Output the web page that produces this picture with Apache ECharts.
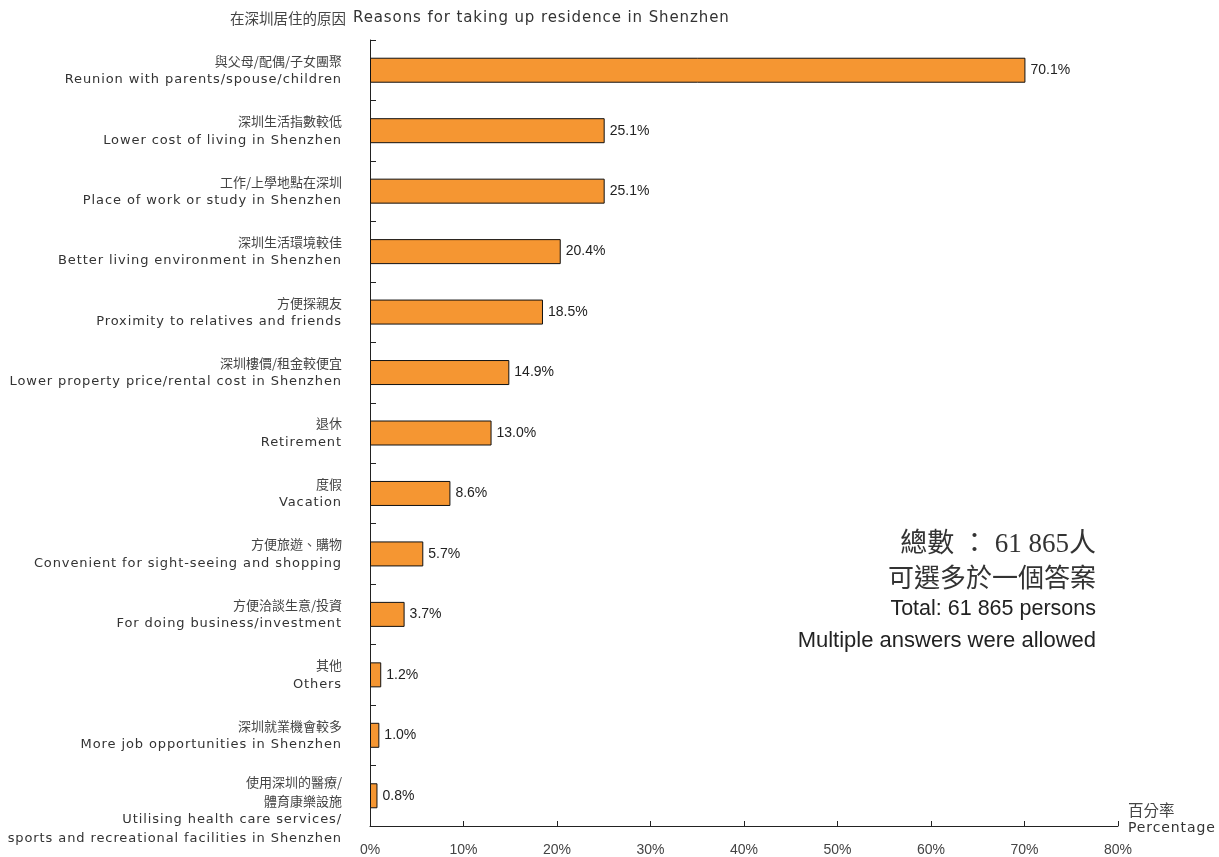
<!DOCTYPE html>
<html>
<head>
<meta charset="utf-8">
<style>
  html, body { margin: 0; padding: 0; background: #ffffff; }
  #chart { width: 1219px; height: 857px; }
</style>
<script src="https://cdn.jsdelivr.net/npm/echarts@6/dist/echarts.min.js"></script>
</head>
<body>
<div id="chart"></div>
<script>
// Reasons for taking up residence in Shenzhen (percentage of persons, multiple answers)
const categoriesZh = [
  '與父母/配偶/子女團聚',
  '深圳生活指數較低',
  '工作/上學地點在深圳',
  '深圳生活環境較佳',
  '方便探親友',
  '深圳樓價/租金較便宜',
  '退休',
  '度假',
  '方便旅遊、購物',
  '方便洽談生意/投資',
  '其他',
  '深圳就業機會較多',
  '使用深圳的醫療/\n體育康樂設施'
];
const categoriesEn = [
  'Reunion with parents/spouse/children',
  'Lower cost of living in Shenzhen',
  'Place of work or study in Shenzhen',
  'Better living environment in Shenzhen',
  'Proximity to relatives and friends',
  'Lower property price/rental cost in Shenzhen',
  'Retirement',
  'Vacation',
  'Convenient for sight-seeing and shopping',
  'For doing business/investment',
  'Others',
  'More job opportunities in Shenzhen',
  'Utilising health care services/\nsports and recreational facilities in Shenzhen'
];
const values = [70.1, 25.1, 25.1, 20.4, 18.5, 14.9, 13.0, 8.6, 5.7, 3.7, 1.2, 1.0, 0.8];
const xTicks = [0, 10, 20, 30, 40, 50, 60, 70, 80];

const titleZh = '在深圳居住的原因';
const titleEn = 'Reasons for taking up residence in Shenzhen';
const axisNameZh = '百分率';
const axisNameEn = 'Percentage';
const noteLines = ['總數 ： 61 865人', '可選多於一個答案', 'Total: 61 865 persons', 'Multiple answers were allowed'];

const CJK = '"Noto Sans CJK TC", "Noto Sans CJK SC", sans-serif';
const WIDE = '"DejaVu Sans", "Liberation Sans", sans-serif';
const ARIAL = '"Liberation Sans", Arial, sans-serif';
const SERIF = '"Liberation Serif", "Noto Sans CJK TC", serif';

// The Latin captions are set with open tracking: widen the letter spacing
// for text drawn in the DejaVu face only, inside an isolated context state.
(function () {
  const proto = CanvasRenderingContext2D.prototype;
  const fill = proto.fillText;
  proto.fillText = function () {
    if ('letterSpacing' in this && this.font.indexOf('DejaVu') >= 0) {
      this.save();
      this.letterSpacing = '0.9px';
      const r = fill.apply(this, arguments);
      this.restore();
      const f = this.font;
      this.font = '10px serif';
      this.font = f;
      return r;
    }
    return fill.apply(this, arguments);
  };
})();

const chart = echarts.init(document.getElementById('chart'));

const option = {
  animation: false,
  backgroundColor: '#ffffff',
  grid: { left: 370, right: 101, top: 40, bottom: 29, containLabel: false },
  xAxis: {
    type: 'value',
    min: xTicks[0],
    max: xTicks[xTicks.length - 1],
    interval: xTicks[1] - xTicks[0],
    axisLine: { show: true, lineStyle: { color: '#222', width: 1 } },
    axisTick: { show: true, inside: true, length: 5, lineStyle: { color: '#222' } },
    splitLine: { show: false },
    axisLabel: {
      formatter: '{value}%',
      margin: 17,
      color: '#444',
      fontFamily: ARIAL,
      fontSize: 14
    },
    name: '{zh|' + axisNameZh + '}\n{en|' + axisNameEn + '}',
    nameLocation: 'end',
    nameGap: 10,
    nameTextStyle: {
      align: 'left',
      verticalAlign: 'middle',
      padding: [0, 0, 14, 0],
      rich: {
        zh: { fontFamily: CJK, fontSize: 15.5, color: '#444', lineHeight: 18 },
        en: { fontFamily: WIDE, fontSize: 14, color: '#333', lineHeight: 18 }
      }
    }
  },
  yAxis: {
    type: 'category',
    inverse: true,
    data: categoriesEn,
    axisLine: { show: true, lineStyle: { color: '#222', width: 1 } },
    axisTick: { show: true, inside: true, length: 6, alignWithLabel: false, lineStyle: { color: '#222' } },
    splitLine: { show: false },
    axisLabel: {
      interval: 0,
      margin: 28,
      formatter: function (v, i) {
        const zh = categoriesZh[i].split('\n').map(function (s) { return '{zh|' + s + '}'; });
        const en = categoriesEn[i].split('\n').map(function (s) { return '{en|' + s + '}'; });
        const lines = zh.concat(en);
        if (lines.length > 2) lines.unshift('{gap| }');
        return lines.join('\n');
      },
      rich: {
        zh: { fontFamily: CJK, fontSize: 13, color: '#444', lineHeight: 19, align: 'right' },
        en: { fontFamily: WIDE, fontSize: 13, color: '#333', lineHeight: 19, align: 'right' },
        gap: { fontSize: 10, lineHeight: 29 }
      }
    }
  },
  series: [{
    type: 'bar',
    data: values,
    barWidth: 25,
    itemStyle: { color: '#F59632', borderColor: '#111', borderWidth: 1 },
    label: {
      show: true,
      position: 'right',
      distance: 5,
      color: '#222',
      fontFamily: ARIAL,
      fontSize: 14,
      formatter: function (p) { return values[p.dataIndex].toFixed(1) + '%'; }
    }
  }],
  graphic: [
    {
      type: 'text',
      left: 230,
      top: 11,
      style: {
        text: '{zh|' + titleZh + '}{en|' + titleEn + '}',
        rich: {
          zh: { fontFamily: CJK, fontSize: 14.5, fill: '#444' },
          en: { fontFamily: WIDE, fontSize: 15, fill: '#333', padding: [0, 0, 0, 7] }
        }
      }
    },
    {
      type: 'text', x: 1096, y: 545,
      style: { text: noteLines[0], align: 'right', verticalAlign: 'middle', font: '27px ' + SERIF, fill: '#333' }
    },
    {
      type: 'text', x: 1096, y: 577,
      style: { text: noteLines[1], align: 'right', verticalAlign: 'middle', font: '26px ' + CJK, fill: '#333' }
    },
    {
      type: 'text', x: 1096, y: 609,
      style: { text: noteLines[2], align: 'right', verticalAlign: 'middle', font: '21.5px ' + ARIAL, fill: '#222' }
    },
    {
      type: 'text', x: 1096, y: 641,
      style: { text: noteLines[3], align: 'right', verticalAlign: 'middle', font: '22px ' + ARIAL, fill: '#222' }
    }
  ]
};

chart.setOption(option);
</script>
</body>
</html>
